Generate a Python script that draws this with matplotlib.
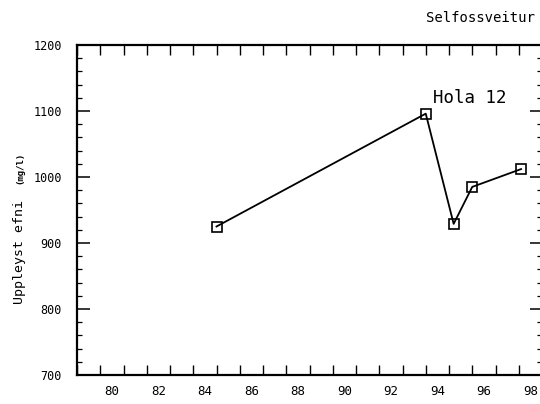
import matplotlib
matplotlib.use("Agg")
import matplotlib.pyplot as plt
from matplotlib.ticker import FixedLocator, MultipleLocator, NullFormatter

# data (year as 2-digit, value in mg/l)
years = [85.0, 94.0, 95.2, 96.0, 98.1]
values = [925, 1096, 929, 985, 1012]

xtick_labels = ["80", "82", "84", "86", "88", "90", "92", "94", "96", "98"]
xtick_label_pos = [80.5, 82.5, 84.5, 86.5, 88.5, 90.5, 92.5, 94.5, 96.5, 98.5]
ytick_values = [700, 800, 900, 1000, 1100, 1200]

mono = "DejaVu Sans Mono"
plt.rcParams["font.family"] = mono

W, H = 540, 404
fig = plt.figure(figsize=(W / 100, H / 100), dpi=100)
ax = fig.add_axes([77 / W, 1 - 375 / H, 465 / W, 330 / H])

ax.plot(years, values, color="black", lw=1.3, marker="s", markersize=6.5,
        markerfacecolor="none", markeredgecolor="black", markeredgewidth=1.2)

ax.set_xlim(79, 99)
ax.set_ylim(700, 1200)

# x: major ticks at year boundaries, labels centred in the year (minor)
ax.xaxis.set_major_locator(MultipleLocator(1))
ax.xaxis.set_major_formatter(NullFormatter())
ax.xaxis.set_minor_locator(FixedLocator(xtick_label_pos))
ax.set_xticklabels(xtick_labels, minor=True)
ax.tick_params(axis="x", which="major", direction="in", length=7, width=1.0,
               top=True, bottom=True)
ax.tick_params(axis="x", which="minor", length=0, pad=7, labelsize=9)

ax.set_yticks(ytick_values)
ax.yaxis.set_minor_locator(MultipleLocator(20))
ax.tick_params(axis="y", which="major", direction="in", length=9, width=1.1,
               left=True, right=True, pad=11, labelsize=8.5)
ax.tick_params(axis="y", which="minor", direction="in", length=3.5, width=0.9,
               left=True, right=True)

for s in ax.spines.values():
    s.set_linewidth(1.6)

ax.text(95.9, 1120, "Hola 12", fontsize=12.5, ha="center", va="center")

fig.text(480 / W, 1 - 18 / H, "Selfossveitur", fontsize=10, ha="center", va="center")
fig.text(20 / W, 1 - 252 / H, "Uppleyst efni", fontsize=9.5, rotation=90,
         ha="center", va="center")
fig.text(20 / W, 1 - 168 / H, "(mg/l)", fontsize=6.5, rotation=90,
         ha="center", va="center", weight="bold")

fig.savefig("out.png", dpi=100)
